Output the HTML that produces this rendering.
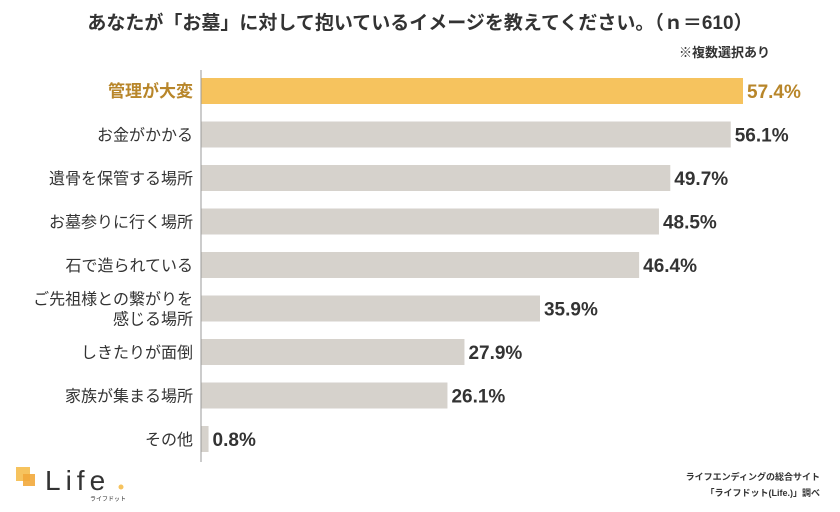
<!DOCTYPE html>
<html><head><meta charset="utf-8">
<style>
body{margin:0;background:#fff;font-family:"Liberation Sans","Noto Sans CJK JP",sans-serif;}
#wrap{position:relative;width:840px;height:512px;overflow:hidden;background:#fff;}
</style></head>
<body>
<div id="wrap">
<svg id="chart" width="840" height="512" style="position:absolute;left:0;top:0">
<text x="420" y="29" text-anchor="middle" font-size="19" font-weight="bold" fill="#333" font-family="Liberation Sans,Noto Sans CJK JP,sans-serif">あなたが「お墓」に対して抱いているイメージを教えてください。（ｎ＝610）</text>
<text x="770" y="57" text-anchor="end" font-size="13" font-weight="bold" fill="#333" font-family="Liberation Sans,Noto Sans CJK JP,sans-serif">※複数選択あり</text>
<g id="bars"></g>
<line x1="201" y1="70" x2="201" y2="462" stroke="#999" stroke-width="1"/>
<g>
<rect x="16" y="467" width="14" height="14" fill="#f6c35e"/>
<rect x="23" y="474" width="12" height="12" fill="#f2a93b" opacity="0.9"/>
<text x="45" y="490" font-size="28" fill="#333" letter-spacing="5" font-family="Liberation Sans,sans-serif">Life</text>
<circle cx="121" cy="487" r="2.5" fill="#f6c35e"/>
<text x="90" y="501" font-size="6" fill="#333" font-family="Liberation Sans,Noto Sans CJK JP,sans-serif">ライフドット</text>
</g>
<text x="820" y="480" text-anchor="end" font-size="9" font-weight="bold" fill="#333" font-family="Liberation Sans,Noto Sans CJK JP,sans-serif">ライフエンディングの総合サイト</text>
<text x="820" y="496" text-anchor="end" font-size="9" font-weight="bold" fill="#333" font-family="Liberation Sans,Noto Sans CJK JP,sans-serif">「ライフドット(Life.)」調べ</text>
</svg>
</div>
<script>
const categories=["管理が大変","お金がかかる","遺骨を保管する場所","お墓参りに行く場所","石で造られている","ご先祖様との繋がりを\n感じる場所","しきたりが面倒","家族が集まる場所","その他"];
const values=[57.4,56.1,49.7,48.5,46.4,35.9,27.9,26.1,0.8];
const valueLabels=["57.4%","56.1%","49.7%","48.5%","46.4%","35.9%","27.9%","26.1%","0.8%"];
const x0=201, pxPer=542/57.4;
function xs(v){return x0+v*pxPer;}
function yc(i){return 91+i*43.5;}
const g=document.getElementById('bars');
const NS="http://www.w3.org/2000/svg";
categories.forEach((c,i)=>{
  const hi=i===0;
  const r=document.createElementNS(NS,'rect');
  r.setAttribute('x',x0);r.setAttribute('y',yc(i)-13);
  r.setAttribute('width',xs(values[i])-x0);r.setAttribute('height',26);
  r.setAttribute('fill',hi?'#f6c35e':'#d6d2cc');
  
  
  g.appendChild(r);
  const lines=c.split('\n');
  lines.forEach((ln,k)=>{
    const t=document.createElementNS(NS,'text');
    t.setAttribute('x',193);
    t.setAttribute('y',yc(i)+6+(k-(lines.length-1)/2)*20);
    t.setAttribute('text-anchor','end');t.setAttribute('font-size',hi?17:16);
    if(hi)t.setAttribute('font-weight','bold');
    t.setAttribute('fill',hi?'#b8862a':'#333');
    t.textContent=ln;
    
    
    g.appendChild(t);
  });
  const v=document.createElementNS(NS,'text');
  v.setAttribute('x',xs(values[i])+4);v.setAttribute('y',yc(i)+7);
  v.setAttribute('font-size',19);v.setAttribute('font-weight','bold');
  v.setAttribute('fill',hi?'#b8862a':'#333');
  v.textContent=valueLabels[i];
  
  
  g.appendChild(v);
});
</script>
</body></html>
